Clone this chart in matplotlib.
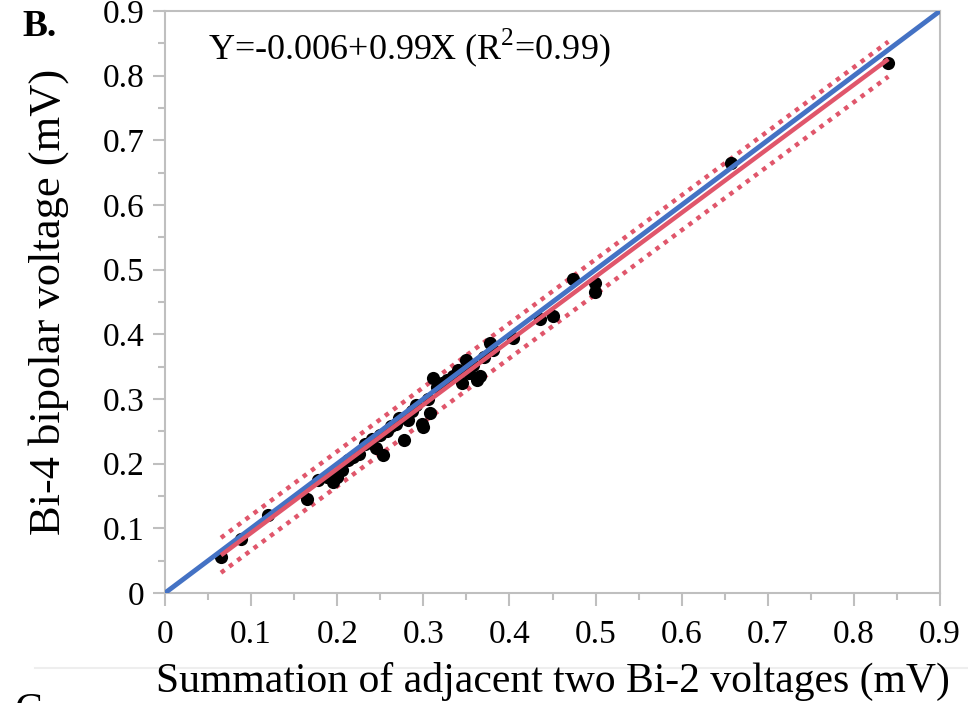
import matplotlib
matplotlib.use("Agg")
import matplotlib.pyplot as plt
from matplotlib.lines import Line2D
import numpy as np

# Data
x_sum = [0.065, 0.088, 0.12, 0.165, 0.178, 0.188, 0.195, 0.200, 0.205, 0.212, 0.218,
         0.225, 0.232, 0.240, 0.245, 0.250, 0.253, 0.258, 0.263, 0.268, 0.272, 0.277,
         0.282, 0.287, 0.292, 0.298, 0.300, 0.305, 0.308, 0.311, 0.316, 0.322, 0.328,
         0.334, 0.340, 0.345, 0.350, 0.353, 0.358, 0.362, 0.366, 0.371, 0.377, 0.381,
         0.404, 0.435, 0.450, 0.474, 0.499, 0.499, 0.657, 0.840]
y_bi4 = [0.055, 0.083, 0.120, 0.145, 0.175, 0.180, 0.172, 0.180, 0.190, 0.205, 0.211,
         0.215, 0.230, 0.238, 0.225, 0.245, 0.214, 0.250, 0.258, 0.262, 0.270, 0.237,
         0.268, 0.282, 0.290, 0.262, 0.256, 0.300, 0.279, 0.333, 0.318, 0.325, 0.330,
         0.335, 0.345, 0.325, 0.361, 0.340, 0.352, 0.330, 0.335, 0.365, 0.387, 0.376,
         0.395, 0.423, 0.428, 0.485, 0.480, 0.466, 0.665, 0.820]

fit_intercept = -0.006
fit_slope = 0.99
band_half = 0.027
fit_x = [0.065, 0.84]
identity_x = [0.0, 0.9]

ticks = [0, 0.1, 0.2, 0.3, 0.4, 0.5, 0.6, 0.7, 0.8, 0.9]
tick_labels = ["0", "0.1", "0.2", "0.3", "0.4", "0.5", "0.6", "0.7", "0.8", "0.9"]

plt.rcParams['font.family'] = ['Liberation Serif', 'DejaVu Serif']
plt.rcParams['mathtext.fontset'] = 'custom'
plt.rcParams['mathtext.rm'] = 'Liberation Serif'

fig = plt.figure(figsize=(9.68, 7.03), dpi=100)
ax = fig.add_axes([165/968, 1-593/703, (940-165)/968, (593-11)/703])

blue = '#4472C4'
red = '#E0566B'
gray = '#BFBFBF'

fx = np.array(fit_x)
fy = fit_intercept + fit_slope * fx
ax.plot(fx, fy + band_half, color=red, lw=3.2, ls=(0, (1, 1.3)), zorder=2)
ax.plot(fx, fy - band_half, color=red, lw=3.2, ls=(0, (1, 1.3)), zorder=2)
ax.scatter(x_sum, y_bi4, s=90, color='black', zorder=3, linewidths=0)
ax.plot(identity_x, identity_x, color=blue, lw=3.5, zorder=4, solid_capstyle='butt')
ax.plot(fx, fy, color=red, lw=3.2, zorder=5, solid_capstyle='butt')

ax.set_xlim(0, 0.9)
ax.set_ylim(0, 0.9)
ax.set_xticks(ticks)
ax.set_xticklabels(tick_labels)
ax.set_yticks(ticks)
ax.set_yticklabels(tick_labels)
ax.set_xticks(np.arange(0.05, 0.9, 0.1), minor=True)
ax.set_yticks(np.arange(0.05, 0.9, 0.1), minor=True)
for s in ax.spines.values():
    s.set_color(gray)
    s.set_linewidth(1.5)
ax.tick_params(which='major', direction='out', length=9, width=1.5, color=gray,
               labelsize=24, pad=6)
ax.tick_params(which='minor', direction='out', length=5, width=1.5, color=gray)
ax.tick_params(axis='x', pad=10)

ax.set_xlabel("Summation of adjacent two Bi-2 voltages (mV)", fontsize=30, labelpad=9)
ax.set_ylabel("Bi-4 bipolar voltage (mV)", fontsize=32, labelpad=24)

ax.text(0.05, 0.825, "Y=-0.006+0.99X (R$^{2}$=0.99)", fontsize=26)
fig.text(22/968, 1-27/703, "B.", fontsize=27, fontweight='bold', va='center', ha='left')

fig.add_artist(Line2D([35/968, 1.0], [1-668/703, 1-668/703], transform=fig.transFigure,
                      color='#EEEEEE', lw=1.5, zorder=0))
fig.text(14/968, 1-692/703, "C", fontsize=30, va='top', ha='left')

fig.savefig("out.png", dpi=100)
